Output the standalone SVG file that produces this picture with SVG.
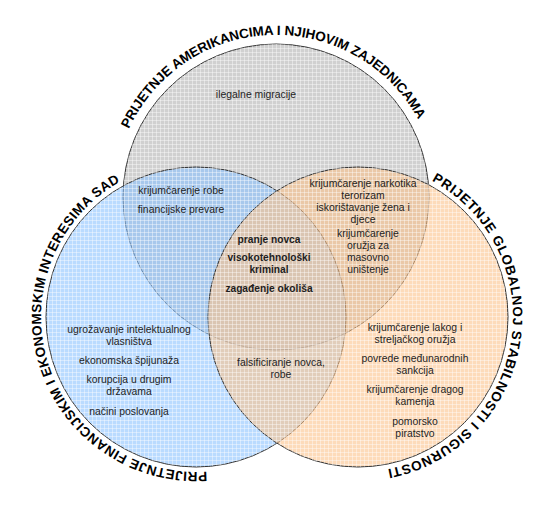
<svg xmlns="http://www.w3.org/2000/svg" width="548" height="518" viewBox="0 0 548 518">
<style>
.lbl{font-family:"Liberation Sans",Arial,sans-serif;font-size:10.4px;fill:#1e1e1e;text-anchor:middle}
.bold{font-weight:bold;font-size:10.2px}
.title{font-family:"Liberation Sans",Arial,sans-serif;font-size:13.5px;font-weight:bold;fill:#000}
.ring{stroke:#333;stroke-width:1}
</style>
<defs>
<pattern id="grid" width="4" height="4" patternUnits="userSpaceOnUse">
<path d="M0 0.5H4M0.5 0V4" stroke="#fff" stroke-opacity="0.4" stroke-width="1" fill="none"/>
</pattern>
<clipPath id="union">
<circle cx="276" cy="197" r="153"/>
<circle cx="196" cy="317" r="150"/>
<circle cx="358" cy="317" r="150"/>
</clipPath>
<path id="arcTop" d="M128.9,129.0 A162,162 0 0 1 418.2,119.4" fill="none"/>
<path id="arcLeft" d="M206.8,471.6 A155,155 0 0 1 119.9,182.0" fill="none"/>
<path id="arcRight" d="M431.7,180.7 A155,155 0 0 1 388.1,469.1" fill="none"/>
</defs>
<rect width="548" height="518" fill="#fff"/>
<g id="set-americans">
<circle class="ring" cx="276" cy="197" r="153" fill="#d0d0d0"/>
</g>
<g id="set-financial">
<circle class="ring" cx="196" cy="317" r="150" fill="#8cc3ff" fill-opacity="0.6"/>
</g>
<g id="set-global">
<circle class="ring" cx="358" cy="317" r="150" fill="#fcc38c" fill-opacity="0.6"/>
</g>
<rect x="0" y="0" width="548" height="518" fill="url(#grid)" clip-path="url(#union)"/>
<g id="connectors"></g>
<g id="titles">
<text class="title"><textPath href="#arcTop" textLength="358" lengthAdjust="spacing">PRIJETNJE AMERIKANCIMA I NJIHOVIM ZAJEDNICAMA</textPath></text>
<text class="title"><textPath href="#arcLeft" textLength="418" lengthAdjust="spacing">PRIJETNJE FINANCIJSKIM I EKONOMSKIM INTERESIMA SAD</textPath></text>
<text class="title"><textPath href="#arcRight" textLength="380" lengthAdjust="spacing">PRIJETNJE GLOBALNOJ STABILNOSTI I SIGURNOSTI</textPath></text>
</g>
<g id="region-americans">
<text class="lbl" x="256" y="98">ilegalne migracije</text>
</g>
<g id="region-americans-financial">
<text class="lbl" x="181" y="194">krijumčarenje robe</text>
<text class="lbl" x="181" y="213">financijske prevare</text>
</g>
<g id="region-all">
<text class="lbl bold" x="269" y="243">pranje novca</text>
<text class="lbl bold" x="269" y="261">visokotehnološki<tspan x="269" dy="12">kriminal</tspan></text>
<text class="lbl bold" x="269" y="292">zagađenje okoliša</text>
</g>
<g id="region-americans-global">
<text class="lbl" x="363" y="187">krijumčarenje narkotika<tspan x="363" dy="12">terorizam</tspan><tspan x="363" dy="12">iskorištavanje žena i</tspan><tspan x="363" dy="12">djece</tspan></text>
<text class="lbl" x="368" y="237">krijumčarenje<tspan x="368" dy="12">oružja za</tspan><tspan x="368" dy="12">masovno</tspan><tspan x="368" dy="12">uništenje</tspan></text>
</g>
<g id="region-financial">
<text class="lbl" x="129" y="333">ugrožavanje intelektualnog<tspan x="129" dy="12">vlasništva</tspan></text>
<text class="lbl" x="129" y="364">ekonomska špijunaža</text>
<text class="lbl" x="129" y="383">korupcija u drugim<tspan x="129" dy="12">državama</tspan></text>
<text class="lbl" x="129" y="415">načini poslovanja</text>
</g>
<g id="region-financial-global">
<text class="lbl" x="281" y="366">falsificiranje novca,<tspan x="281" dy="12">robe</tspan></text>
</g>
<g id="region-global">
<text class="lbl" x="415" y="331">krijumčarenje lakog i<tspan x="415" dy="12">streljačkog oružja</tspan></text>
<text class="lbl" x="415" y="362">povrede međunarodnih<tspan x="415" dy="12">sankcija</tspan></text>
<text class="lbl" x="415" y="393">krijumčarenje dragog<tspan x="415" dy="12">kamenja</tspan></text>
<text class="lbl" x="415" y="425">pomorsko<tspan x="415" dy="12">piratstvo</tspan></text>
</g>
</svg>
